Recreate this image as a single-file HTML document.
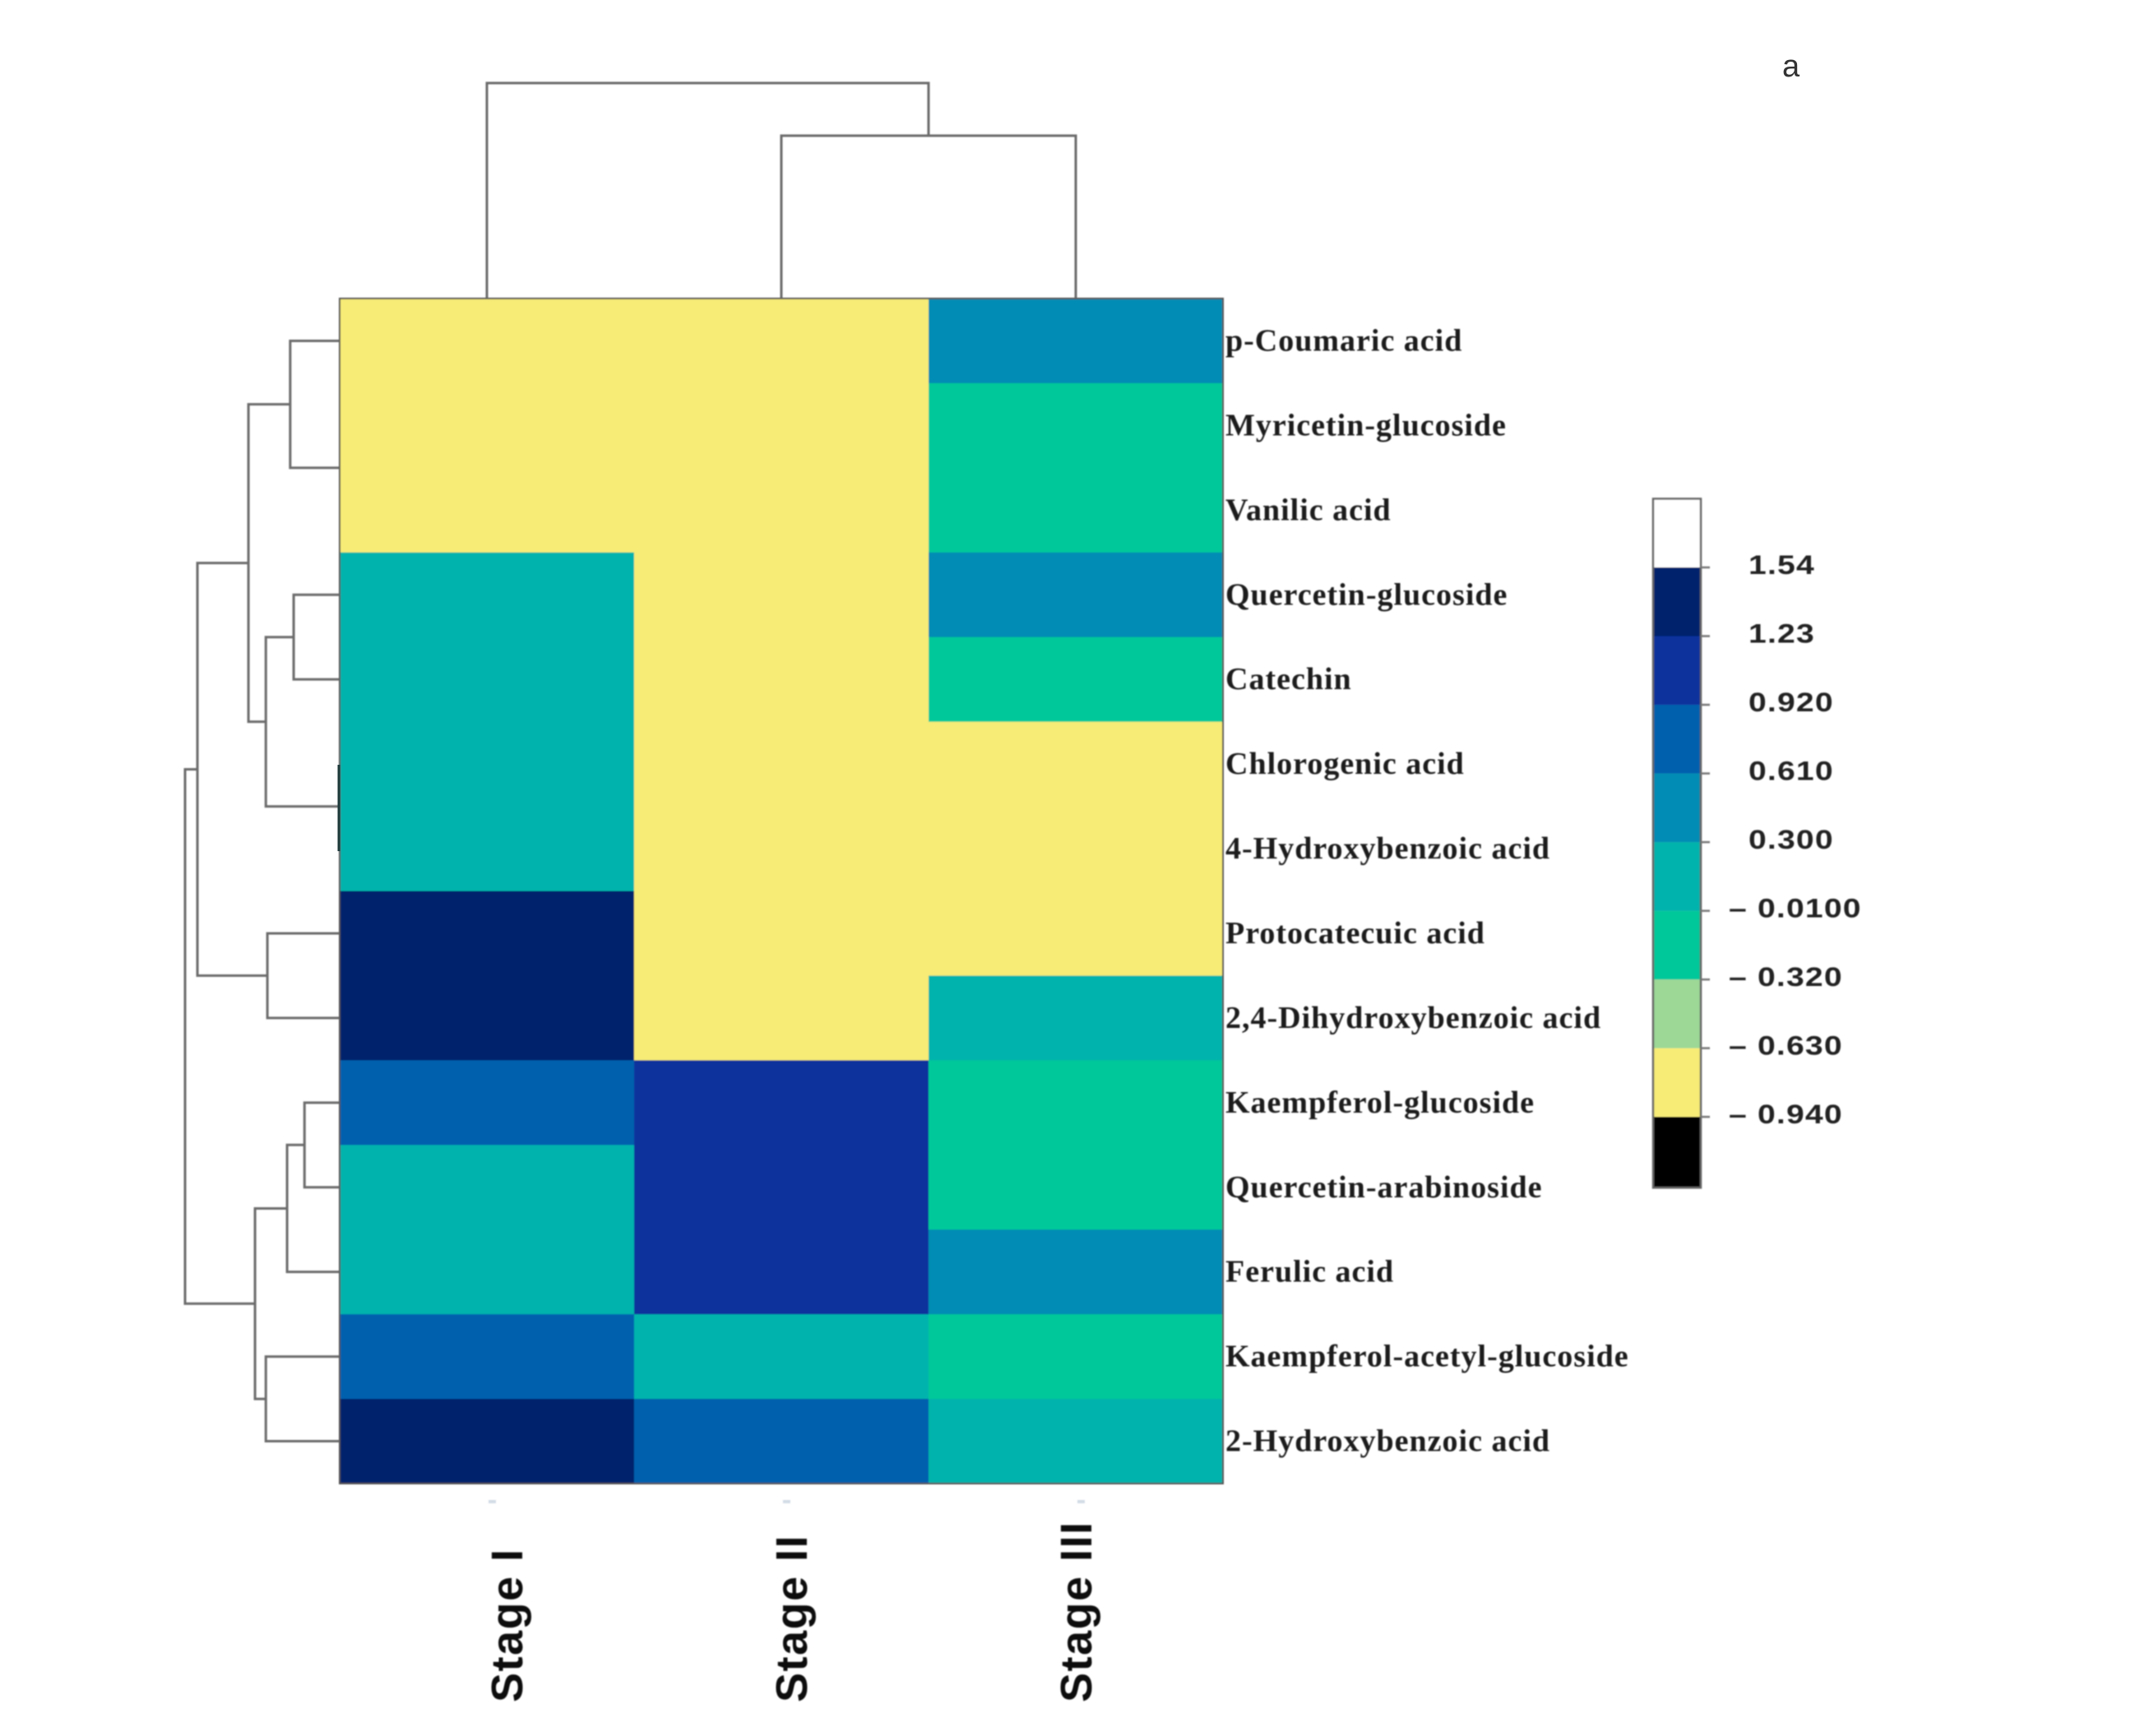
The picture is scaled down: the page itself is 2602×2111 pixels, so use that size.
<!DOCTYPE html>
<html lang="en">
<head>
<meta charset="utf-8">
<title>Phenolic compounds heatmap</title>
<style>
html,body{margin:0;padding:0;background:#fff;}
svg{display:block;}
.row-label{font-family:"Liberation Serif",serif;font-weight:bold;font-size:38px;fill:#1c1c1c;letter-spacing:1px;}
.col-label{font-family:"Liberation Sans",sans-serif;font-weight:bold;font-size:54px;fill:#111;letter-spacing:1.5px;}
.key-label{font-family:"Liberation Sans",sans-serif;font-weight:bold;font-size:32px;fill:#222;letter-spacing:1px;}
.panel-label{font-family:"Liberation Sans",sans-serif;font-size:38px;fill:#333;}
</style>
</head>
<body>
<svg id="chart" xmlns="http://www.w3.org/2000/svg" width="2602" height="2111" viewBox="0 0 2602 2111">
  <defs>
    <filter id="soft" x="-5%" y="-5%" width="110%" height="110%"><feGaussianBlur stdDeviation="0.9"/></filter>
  </defs>
  <rect width="2602" height="2111" fill="#ffffff"/>
  <g id="col-dendro" filter="url(#soft)"></g>
  <g id="row-dendro" filter="url(#soft)"></g>
  <g id="cells" filter="url(#soft)"></g>
  <g id="row-labels" filter="url(#soft)"></g>
  <g id="col-labels" filter="url(#soft)"></g>
  <g id="key" filter="url(#soft)"></g>
  <line x1="412" x2="412" y1="930" y2="1035" stroke="#1e3a3a" stroke-width="3"/>
  <text class="panel-label" x="2167" y="93">a</text>
</svg>
<script>
const compounds = ["p-Coumaric acid","Myricetin-glucoside","Vanilic acid","Quercetin-glucoside","Catechin","Chlorogenic acid","4-Hydroxybenzoic acid","Protocatecuic acid","2,4-Dihydroxybenzoic acid","Kaempferol-glucoside","Quercetin-arabinoside","Ferulic acid","Kaempferol-acetyl-glucoside","2-Hydroxybenzoic acid"];
const stages = ["Stage I","Stage II","Stage III"];
const stageOne = [-0.8,-0.8,-0.8,0.15,0.15,0.15,0.15,1.4,1.4,0.77,0.15,0.15,0.77,1.4];
const stageTwo = [-0.8,-0.8,-0.8,-0.8,-0.8,-0.8,-0.8,-0.8,-0.8,1.08,1.08,1.08,0.15,0.77];
const stageThree = [0.45,-0.17,-0.17,0.45,-0.17,-0.8,-0.8,-0.8,0.15,-0.17,-0.17,0.45,-0.17,0.15];
const keyBreaks = [-1.26,-0.94,-0.63,-0.32,-0.01,0.30,0.61,0.92,1.23,1.54,1.85];
const keyColors = ["#000000","#f7ec76","#9dd897","#00c89a","#00b3ac","#008cb4","#0061ae","#08309c","#06206c","#ffffff"];
const keyTicks = [1.54,1.23,0.92,0.61,0.30,-0.01,-0.32,-0.63,-0.94];
const keyTickLabels = ["1.54","1.23","0.920","0.610","0.300","– 0.0100","– 0.320","– 0.630","– 0.940"];
const rowTree = {h:4.0,kids:[
  {h:3.68,kids:[
    {h:2.36,kids:[
      {h:1.28,kids:[0,{h:0,kids:[1,2]}]},
      {h:1.91,kids:[{h:1.19,kids:[3,4]},{h:0,kids:[5,6]}]}
    ]},
    {h:1.87,kids:[7,8]}
  ]},
  {h:2.19,kids:[
    {h:1.36,kids:[{h:0.91,kids:[9,10]},11]},
    {h:1.91,kids:[12,13]}
  ]}
]};
const colTree = {h:3.97,kids:[0,{h:3.0,kids:[1,2]}]};

const NS = "http://www.w3.org/2000/svg";
const plot = {left:413,right:1487,top:363,bottom:1804};
const matrix = [stageOne,stageTwo,stageThree];
const colW = (plot.right-plot.left)/stages.length;
const rowH = (plot.bottom-plot.top)/compounds.length;
const xCol = i => plot.left+i*colW;
const yRow = i => plot.top+i*rowH;
const xRowDist = h => plot.left-h*47;
const yColDist = h => plot.top-h*66;
const xStageLabel = i => 635+346*i;
const keyRect = {left:2010,right:2068};
const yKey = v => 690+(1.54-v)*269.4;
const dendroStroke = "#6c6c6c";

function make(tag,attrs,parent){
  const n = document.createElementNS(NS,tag);
  for(const k in attrs){n.setAttribute(k,attrs[k]);}
  parent.appendChild(n);
  return n;
}
function colorFor(v){
  for(let i=0;i<keyColors.length;i++){
    if(v>=keyBreaks[i]&&v<keyBreaks[i+1]){return keyColors[i];}
  }
  return "#ffffff";
}

/* heatmap cells */
const cellsG = document.getElementById("cells");
matrix.forEach((col,c)=>{
  col.forEach((v,r)=>{
    const cell = make("rect",{x:xCol(c),y:yRow(r),width:colW+0.5,height:rowH+0.5,fill:colorFor(v)},cellsG);
    
    
  });
});
const frame = make("rect",{x:plot.left,y:plot.top,width:plot.right-plot.left,height:plot.bottom-plot.top,fill:"none",stroke:"#555",'stroke-width':2},cellsG);



/* row labels */
const rowLabelG = document.getElementById("row-labels");
compounds.forEach((name,r)=>{
  const t = make("text",{class:"row-label",x:plot.right+3,y:yRow(r+0.5)+12},rowLabelG);
  t.textContent = name;
  
  
});

/* column labels */
const colLabelG = document.getElementById("col-labels");
stages.forEach((name,c)=>{
  const t = make("text",{class:"col-label",transform:"translate("+xStageLabel(c)+",2070) rotate(-90)"},colLabelG);
  t.textContent = name;
  
  
  const speck = make("rect",{x:xCol(c+0.5)+2,y:1824,width:9,height:4,fill:"#d3dbe6"},colLabelG);
  
  
});

/* dendrograms */
function rowCenter(node,parent){
  if(typeof node==="number"){return yRow(node+0.5);}
  const ys = node.kids.map(k=>rowCenter(k,parent));
  const y = (ys[0]+ys[1])/2;
  const x = xRowDist(node.h);
  if(node.h>0){
    const link = make("path",{d:"M"+kidX(node.kids[0])+" "+ys[0]+"H"+x+"V"+ys[1]+"H"+kidX(node.kids[1]),fill:"none",stroke:dendroStroke,'stroke-width':3},parent);
    
    
  }
  return y;
}
function kidX(k){return typeof k==="number"?plot.left:xRowDist(k.h);}
rowCenter(rowTree,document.getElementById("row-dendro"));

function colCenter(node,parent){
  if(typeof node==="number"){return xCol(node+0.5);}
  const xs = node.kids.map(k=>colCenter(k,parent));
  const y = yColDist(node.h);
  const link = make("path",{d:"M"+xs[0]+" "+kidY(node.kids[0])+"V"+y+"H"+xs[1]+"V"+kidY(node.kids[1]),fill:"none",stroke:dendroStroke,'stroke-width':3},parent);
  
  
  return (xs[0]+xs[1])/2;
}
function kidY(k){return typeof k==="number"?plot.top:yColDist(k.h);}
colCenter(colTree,document.getElementById("col-dendro"));

/* colour key */
const keyG = document.getElementById("key");
keyColors.forEach((color,i)=>{
  const seg = make("rect",{x:keyRect.left,y:yKey(keyBreaks[i+1]),width:keyRect.right-keyRect.left,height:yKey(keyBreaks[i])-yKey(keyBreaks[i+1]),fill:color},keyG);
  
  
});
const keyFrame = make("rect",{x:keyRect.left,y:yKey(keyBreaks[keyBreaks.length-1]),width:keyRect.right-keyRect.left,height:yKey(keyBreaks[0])-yKey(keyBreaks[keyBreaks.length-1]),fill:"none",stroke:"#666",'stroke-width':2.5},keyG);


keyTicks.forEach((v,i)=>{
  const tick = make("line",{x1:keyRect.right,x2:keyRect.right+11,y1:yKey(v),y2:yKey(v),stroke:"#777",'stroke-width':2.5},keyG);
  
  
  const label = keyTickLabels[i];
  const neg = label.charAt(0)==="–";
  const t = make("text",{class:"key-label",x:neg?2102:2126,y:yKey(v)+8},keyG);
  t.textContent = label;
  
  
  t.setAttribute('lengthAdjust','spacingAndGlyphs');
  t.setAttribute('textLength',(t.getComputedTextLength()*1.22).toFixed(1));
});
</script>
</body>
</html>
